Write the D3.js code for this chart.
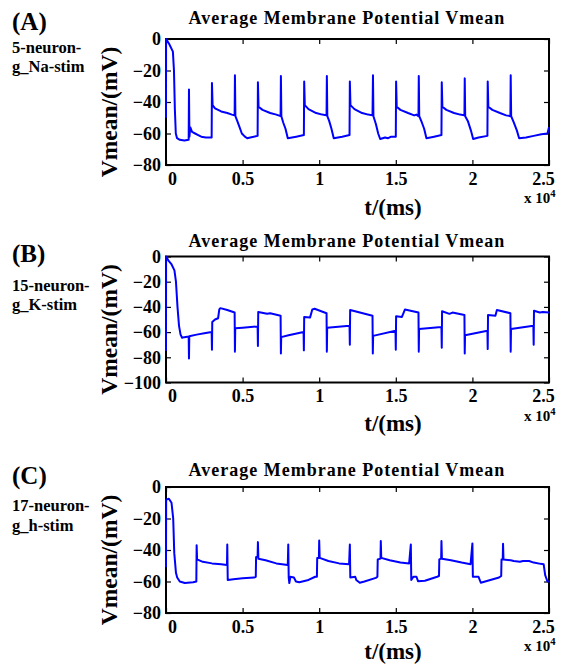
<!DOCTYPE html>
<html>
<head>
<meta charset="utf-8">
<script src="https://cdn.jsdelivr.net/npm/d3@7/dist/d3.min.js"></script>
<style>
  body { margin: 0; background: #fff; }
  text { font-family: "Liberation Serif", "Times New Roman", serif; font-weight: bold; fill: #000; }
</style>
</head>
<body>
<script>
// t in ms, Vmean in mV
const traceA = [
  [0, -50], [5, 0], [200, -3], [450, -8], [520, -20], [580, -45], [640, -60], [720, -63], [900, -64], [1200, -64.5], [1480, -64],
  [1500, -32], [1530, -62], [1580, -56], [1700, -59], [1900, -60], [2100, -61], [2300, -62], [2600, -62.5], [2980, -62.5],
  [3000, -28], [3040, -42], [3200, -44], [3600, -46], [4000, -47], [4300, -48], [4480, -48.5],
  [4500, -23], [4530, -49], [4650, -52], [4800, -56], [4950, -60], [5150, -62], [5300, -63], [5500, -62.5], [5980, -61.5],
  [6000, -27.5], [6040, -43], [6300, -45], [6800, -47], [7200, -48], [7480, -49],
  [7500, -23.5], [7530, -49], [7650, -53], [7800, -57], [7950, -63], [8500, -62], [9000, -61],
  [9020, -27], [9060, -42], [9300, -44.5], [9800, -47], [10200, -48], [10480, -48.5],
  [10500, -23.5], [10530, -49], [10650, -52], [10800, -57], [10950, -63], [11500, -62], [11980, -61],
  [12000, -27], [12040, -42], [12300, -44.5], [12800, -47], [13200, -48], [13480, -48.5],
  [13510, -23], [13540, -49], [13700, -54], [13850, -60], [13980, -63.5], [14300, -62.5], [14500, -63], [14700, -62], [15000, -62],
  [15020, -27], [15060, -43], [15300, -45], [15800, -47], [16200, -48.5], [16350, -48], [16480, -49],
  [16500, -23.5], [16530, -49], [16700, -53], [16850, -57], [17000, -63], [17500, -62], [17980, -61],
  [18000, -27.5], [18040, -43], [18300, -45], [18800, -47], [19200, -48], [19480, -48.5],
  [19500, -25], [19530, -49], [19700, -52], [19900, -58], [20050, -63.5], [20400, -62.5], [20980, -61.5],
  [21000, -27], [21040, -43], [21300, -45], [21800, -47], [22200, -48.5], [22480, -49],
  [22500, -23], [22530, -49], [22700, -53], [22900, -58], [23050, -63], [23500, -62.5], [24000, -61.5], [24500, -60.5], [24900, -60], [25000, -56]
];

const traceB = [
  [0, -75], [5, 0], [150, -3], [350, -6], [550, -11], [650, -20], [750, -40], [850, -55], [950, -62], [1050, -64.5], [1200, -64], [1480, -63.5],
  [1500, -81], [1520, -63.3], [2000, -62], [2500, -61], [2980, -60],
  [3000, -74], [3020, -52], [3200, -50], [3400, -49], [3480, -42], [3550, -41], [4000, -42.5], [4480, -44.5],
  [4500, -75.5], [4520, -57], [5000, -56.5], [5980, -55.5],
  [6000, -71], [6020, -44], [6600, -45.5], [6800, -45], [7480, -47],
  [7500, -77], [7520, -64], [8000, -62.5], [8980, -60],
  [9000, -74.5], [9020, -48], [9400, -48.5], [9550, -42], [9700, -41.5], [10480, -45],
  [10500, -75.5], [10520, -56.5], [11980, -55],
  [12000, -70], [12020, -42.5], [13480, -47],
  [13500, -77], [13520, -63], [14980, -59],
  [15000, -74], [15020, -47.5], [15400, -48], [15600, -42], [16480, -44.5],
  [16500, -75.5], [16520, -57.5], [17980, -56],
  [18000, -72.5], [18020, -43.5], [18500, -45.5], [18700, -44.5], [19480, -46.5],
  [19500, -77], [19520, -62.5], [20980, -59],
  [21000, -73.5], [21020, -46.5], [21500, -47], [21600, -42.5], [22480, -45],
  [22500, -75.5], [22520, -57.5], [23980, -55],
  [24000, -70], [24020, -43], [24400, -44.5], [24600, -44], [25000, -44.5]
];

const traceC = [
  [0, -51], [10, -8], [190, -7.5], [360, -10], [470, -20], [540, -42], [650, -54.5], [730, -57.5], [900, -60], [1230, -61], [1770, -60.5], [1980, -60],
  [2000, -37], [2030, -46], [2400, -47.5], [3000, -48.5], [3600, -49], [3980, -49.5],
  [4000, -36.5], [4030, -59], [4400, -58.5], [5000, -58], [5750, -57.5], [5860, -57], [5880, -44.5], [5980, -44],
  [6000, -35], [6030, -45.5], [6500, -46.5], [7200, -48.5], [7950, -49.5],
  [7980, -36.5], [8010, -57.5], [8050, -61], [8120, -57], [8350, -57.5], [8480, -60], [8700, -60.5], [9300, -59], [9740, -57], [9850, -57], [9870, -45], [9980, -45],
  [10000, -34], [10030, -45], [10600, -47], [11300, -48.5], [11950, -49],
  [12000, -36.5], [12030, -57.5], [12350, -57], [12420, -59], [12650, -60.8], [12950, -60], [13700, -57.7], [13800, -57], [13820, -46], [14000, -45.5],
  [14020, -34.3], [14050, -45], [14600, -46.5], [15300, -48], [15870, -48.5],
  [15980, -36.5], [16010, -59], [16150, -57], [16350, -57], [16450, -59.8], [16900, -59.5], [17700, -57], [17820, -56.5], [17840, -46], [17960, -45.5],
  [17980, -34.3], [18010, -45.5], [18600, -46.5], [19300, -48], [19880, -49],
  [20000, -35.8], [20030, -57], [20400, -57], [20550, -60.8], [21000, -59.5], [21740, -57.5], [21880, -56.5], [21900, -46], [21980, -46],
  [22000, -36], [22030, -46], [22500, -46.5], [22700, -47], [23100, -47.5], [23300, -47], [23700, -47], [24000, -48], [24450, -48.8], [24650, -49], [24750, -56], [24900, -60], [25000, -60]
];

const panelLetters = ["(A)", "(B)", "(C)"];
const panelNotes = [["5-neuron-", "g_Na-stim"], ["15-neuron-", "g_K-stim"], ["17-neuron-", "g_h-stim"]];
const titleText = "Average Membrane Potential Vmean";
const xLabelText = "t/(ms)";
const yLabelText = "Vmean/(mV)";
const xTicks = [0, 5000, 10000, 15000, 20000, 25000];
const xTickLabels = ["0", "0.5", "1", "1.5", "2", "2.5"];
const yTicksA = [0, -20, -40, -60, -80];
const yTicksB = [0, -20, -40, -60, -80, -100];
const yTicksC = [0, -20, -40, -60, -80];

const traces = [traceA, traceB, traceC];
const yTickSets = [yTicksA, yTicksB, yTicksC];

const w = 571;
const h = 665;
const left = 166;
const right = 549;
const plotH = 126;
const tops = [39, 256.5, 487];
// hand placed text, as in the figure
const titleY = [24, 247, 476];
const letterY = [30, 262, 484];
const noteY = [[53, 72], [291, 310], [511, 531]];
const xLabelDy = [50, 48, 46];

const svg = d3.select("body").append("svg").attr("width", w).attr("height", h);

traces.forEach((trace, i) => {
  const top = tops[i];
  const bottom = top + plotH;
  const yTicks = yTickSets[i];

  const x = d3.scaleLinear().domain([0, 25000]).range([left, right]);
  const y = d3.scaleLinear().domain([d3.min(yTicks), 0]).range([bottom, top]);

  const g = svg.append("g");

  // inward ticks on all four sides
  const xb = g.append("g").attr("transform", `translate(0,${bottom})`)
    .call(d3.axisBottom(x).tickValues(xTicks).tickSize(-5).tickSizeOuter(0).tickPadding(7)
      .tickFormat((d, k) => xTickLabels[k]));
  g.append("g").attr("transform", `translate(0,${top})`)
    .call(d3.axisTop(x).tickValues(xTicks).tickSize(-5).tickSizeOuter(0).tickFormat(""));
  g.append("g").attr("transform", `translate(${left},0)`)
    .call(d3.axisLeft(y).tickValues(yTicks).tickSize(-5).tickSizeOuter(0).tickPadding(5)
      .tickFormat(d3.format("d")));
  g.append("g").attr("transform", `translate(${right},0)`)
    .call(d3.axisRight(y).tickValues(yTicks).tickSize(-5).tickSizeOuter(0).tickFormat(""));

  g.selectAll(".domain").remove();
  g.selectAll(".tick line").attr("stroke", "#000").attr("stroke-width", 1.2);
  g.selectAll(".tick text").attr("font-size", 18).attr("font-family", null);
  xb.selectAll(".tick text")
    .attr("dx", (d, k) => (k === 0 ? 6 : k === xTicks.length - 1 ? -6 : 0));

  g.append("rect")
    .attr("x", left).attr("y", top)
    .attr("width", right - left).attr("height", plotH)
    .attr("fill", "none").attr("stroke", "#000").attr("stroke-width", 2);

  g.append("path")
    .datum(trace)
    .attr("fill", "none")
    .attr("stroke", "#0000ff")
    .attr("stroke-width", 2)
    .attr("stroke-linejoin", "round")
    .attr("d", d3.line().x((d) => x(d[0])).y((d) => y(d[1])));

  const ex = g.append("text").attr("x", 524).attr("y", bottom + 38).attr("font-size", 15);
  ex.append("tspan").text("x 10");
  ex.append("tspan").attr("dy", -6).attr("font-size", 10.5).text("4");

  g.append("text")
    .attr("x", 347).attr("y", titleY[i])
    .attr("text-anchor", "middle").attr("font-size", 18).attr("letter-spacing", 1)
    .text(titleText);

  g.append("text")
    .attr("x", 393).attr("y", bottom + xLabelDy[i])
    .attr("text-anchor", "middle").attr("font-size", 23)
    .text(xLabelText);

  g.append("text")
    .attr("transform", `translate(117,${(top + bottom) / 2 + 10}) rotate(-90)`)
    .attr("text-anchor", "middle").attr("font-size", 23.5)
    .text(yLabelText);

  g.append("text").attr("x", 12).attr("y", letterY[i]).attr("font-size", 25).text(panelLetters[i]);
  g.append("text").attr("x", 12).attr("y", noteY[i][0]).attr("font-size", 16.5).text(panelNotes[i][0]);
  g.append("text").attr("x", 12).attr("y", noteY[i][1]).attr("font-size", 16.5).text(panelNotes[i][1]);
});
</script>
</body>
</html>
